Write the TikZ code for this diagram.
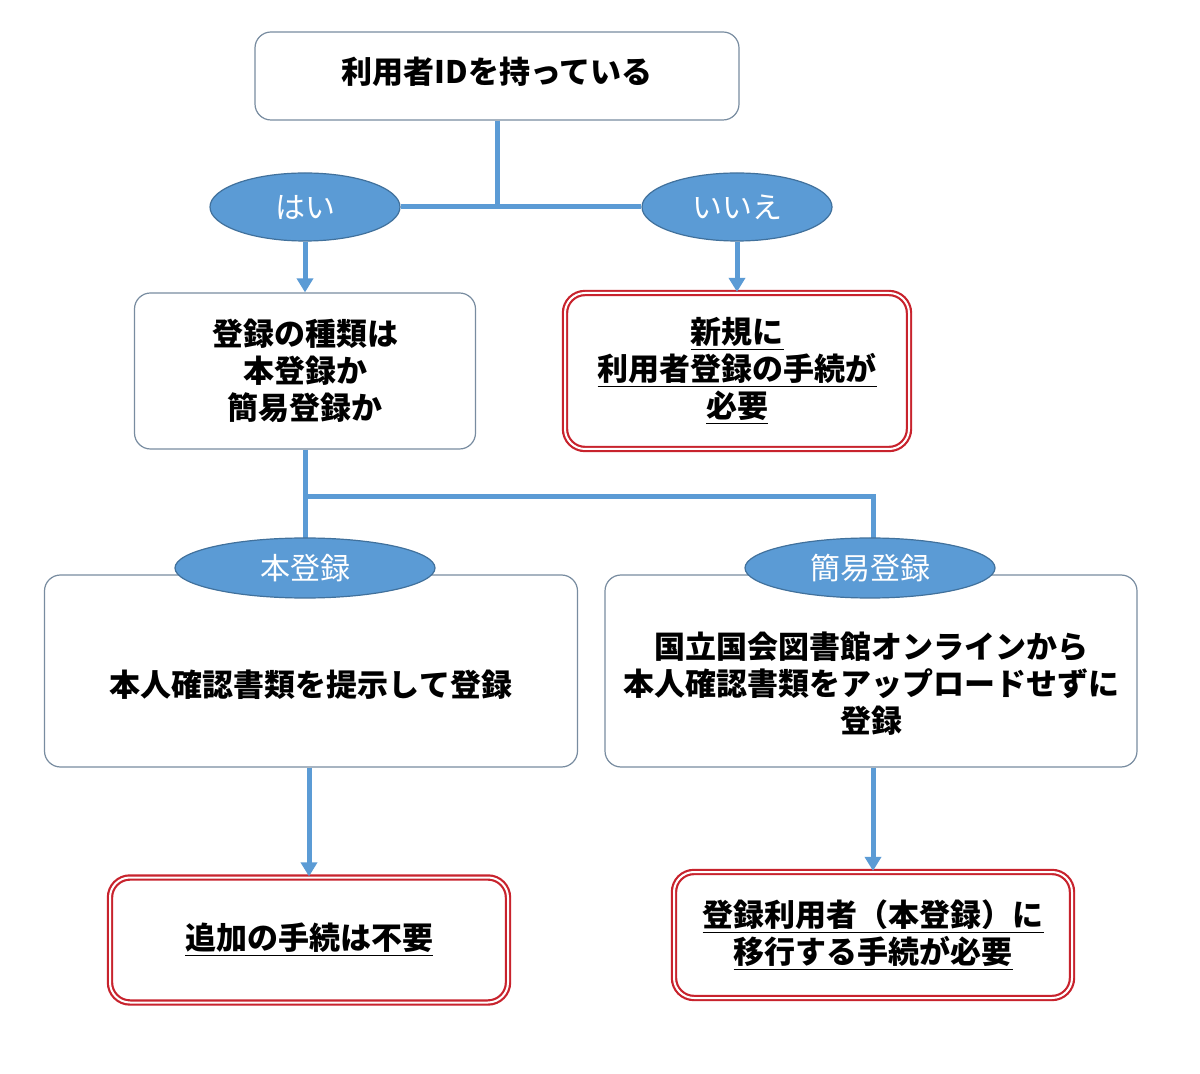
\documentclass[tikz,border=0pt]{standalone}
\usepackage{fontspec}
\newfontfamily\jp{Noto Sans CJK JP}
\usetikzlibrary{arrows.meta,shapes.geometric,calc}
\definecolor{lineblue}{RGB}{91,155,213}
\definecolor{ellborder}{RGB}{65,113,156}
\definecolor{boxgray}{RGB}{120,140,160}
\definecolor{redline}{RGB}{200,35,45}
\begin{document}
\begin{tikzpicture}[x=0.5pt,y=-0.5pt,
  box/.style={draw=boxgray,line width=0.6pt,rounded corners=8pt,fill=white,align=center,
    font=\jp\bfseries\fontsize{15.5}{18.5}\selectfont,inner sep=0pt},
  redbox/.style={draw=redline,double=white,double distance=1pt,line width=1.1pt,rounded corners=10pt,
    fill=white,align=center,font=\jp\bfseries\fontsize{15.5}{18.5}\selectfont,inner sep=0pt},
  oval/.style={ellipse,draw=ellborder,line width=0.6pt,fill=lineblue,text=white,inner sep=0pt,
    font=\jp\fontsize{15}{18}\selectfont},
  txt/.style={align=center,font=\jp\bfseries\fontsize{15.5}{18.5}\selectfont,inner sep=0pt},
  conn/.style={draw=lineblue,line width=2.5pt},
  arr/.style={conn,-{Triangle[width=8pt,length=7pt]}}
]
\useasboundingbox[fill=white] (0,0) rectangle (1200,1074);

% boxes
\node[box,minimum width=242pt,minimum height=44pt] (top) at (497,76) {};
\node[txt] (topt) at ([yshift=2pt]top.center) {利用者IDを持っている};
\node[box,minimum width=170.5pt,minimum height=78pt] (q2) at (305,371) {登録の種類は\\本登録か\\簡易登録か};
\node[redbox,minimum width=172pt,minimum height=78pt] (r1) at (737,371)
  {\underline{新規に}\\\underline{利用者登録の手続が}\\\underline{必要}};
\node[box,minimum width=266.5pt,minimum height=96pt] (b3) at (311,671) {};
\node[txt] (b3t) at ([yshift=-7pt]b3.center) {本人確認書類を提示して登録};
\node[box,minimum width=266pt,minimum height=96pt] (b4) at (871,671) {};
\node[txt] (b4t) at ([yshift=-6.5pt]b4.center) {国立国会図書館オンラインから\\本人確認書類をアップロードせずに\\登録};
\node[redbox,minimum width=199pt,minimum height=62.5pt] (r2) at (309,940) {\underline{追加の手続は不要}};
\node[redbox,minimum width=199pt,minimum height=63pt] (r3) at (873,935)
  {\underline{登録利用者（本登録）に}\\\underline{移行する手続が必要}};

% ellipses
\node[oval,minimum width=95pt,minimum height=34pt] (yes) at (305,207) {はい};
\node[oval,minimum width=95pt,minimum height=34pt] (no) at (737,207) {いいえ};

% connectors top
\coordinate (j1) at (top.south |- yes.east);
\draw[conn] (top.south) -- (j1);
\draw[conn] (yes.east) -- (no.west);
\draw[arr] (yes.south) -- (q2.north);
\draw[arr] (no.south) -- (r1.north);

% connectors middle
\coordinate (j2) at (305,497);
\coordinate (j3) at (873,497);
\draw[conn] (q2.south) -- (j2) -- ($(q2.south)+(0,90)$);
\draw[conn] (j2) -- (j3) -- (873,545);

\node[oval,minimum width=130pt,minimum height=30pt] (hon) at (305,568) {本登録};
\node[oval,minimum width=125pt,minimum height=30pt] (kan) at (870,568) {簡易登録};

% connectors bottom
\draw[arr] (r2.north |- b3.south) -- (r2.north);
\draw[arr] (r3.north |- b4.south) -- (r3.north);
\end{tikzpicture}
\end{document}
